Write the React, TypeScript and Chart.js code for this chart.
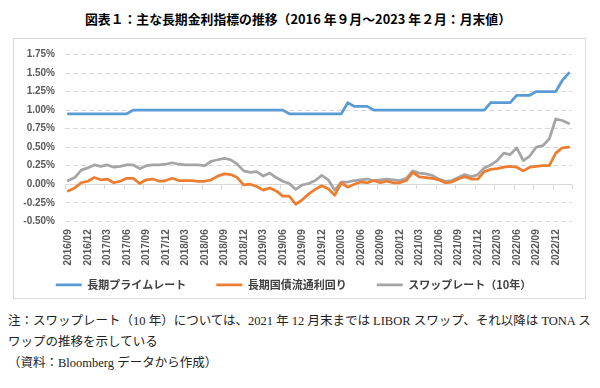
import React, { useEffect, useRef } from "react";
import { Chart, registerables } from "chart.js";

Chart.register(...registerables);

const months = [
  "2016/09", "2016/10", "2016/11", "2016/12",
  "2017/01", "2017/02", "2017/03", "2017/04", "2017/05", "2017/06", "2017/07", "2017/08", "2017/09", "2017/10", "2017/11", "2017/12",
  "2018/01", "2018/02", "2018/03", "2018/04", "2018/05", "2018/06", "2018/07", "2018/08", "2018/09", "2018/10", "2018/11", "2018/12",
  "2019/01", "2019/02", "2019/03", "2019/04", "2019/05", "2019/06", "2019/07", "2019/08", "2019/09", "2019/10", "2019/11", "2019/12",
  "2020/01", "2020/02", "2020/03", "2020/04", "2020/05", "2020/06", "2020/07", "2020/08", "2020/09", "2020/10", "2020/11", "2020/12",
  "2021/01", "2021/02", "2021/03", "2021/04", "2021/05", "2021/06", "2021/07", "2021/08", "2021/09", "2021/10", "2021/11", "2021/12",
  "2022/01", "2022/02", "2022/03", "2022/04", "2022/05", "2022/06", "2022/07", "2022/08", "2022/09", "2022/10", "2022/11", "2022/12",
  "2023/01", "2023/02",
];

// 長期プライムレート
const primeRate = [
  0.95, 0.95, 0.95, 0.95,
  0.95, 0.95, 0.95, 0.95, 0.95, 0.95, 1.0, 1.0, 1.0, 1.0, 1.0, 1.0,
  1.0, 1.0, 1.0, 1.0, 1.0, 1.0, 1.0, 1.0, 1.0, 1.0, 1.0, 1.0,
  1.0, 1.0, 1.0, 1.0, 1.0, 1.0, 0.95, 0.95, 0.95, 0.95, 0.95, 0.95,
  0.95, 0.95, 0.95, 1.1, 1.05, 1.05, 1.05, 1.0, 1.0, 1.0, 1.0, 1.0,
  1.0, 1.0, 1.0, 1.0, 1.0, 1.0, 1.0, 1.0, 1.0, 1.0, 1.0, 1.0,
  1.0, 1.1, 1.1, 1.1, 1.1, 1.2, 1.2, 1.2, 1.25, 1.25, 1.25, 1.25,
  1.4, 1.5,
];

// 長期国債流通利回り
const jgbYield = [
  -0.09, -0.05, 0.02, 0.04,
  0.09, 0.06, 0.07, 0.02, 0.04, 0.08, 0.08, 0.01, 0.06, 0.07, 0.04, 0.05,
  0.08, 0.05, 0.05, 0.05, 0.04, 0.04, 0.06, 0.11, 0.14, 0.13, 0.09, -0.01,
  0.0, -0.03, -0.08, -0.05, -0.09, -0.16, -0.16, -0.27, -0.21, -0.13, -0.07, -0.02,
  -0.06, -0.15, 0.02, -0.04, 0.0, 0.03, 0.02, 0.05, 0.02, 0.04, 0.02, 0.02,
  0.05, 0.16, 0.1, 0.09, 0.08, 0.06, 0.02, 0.03, 0.07, 0.1, 0.07, 0.07,
  0.17, 0.2, 0.21, 0.23, 0.24, 0.23, 0.18, 0.23, 0.24, 0.25, 0.25, 0.42,
  0.49, 0.5,
];

// スワップレート（10年）
const swapRate = [
  0.05, 0.09, 0.19, 0.22,
  0.26, 0.24, 0.26, 0.23, 0.24, 0.26, 0.26, 0.21, 0.25, 0.26, 0.26, 0.27,
  0.29, 0.27, 0.26, 0.26, 0.26, 0.25, 0.31, 0.33, 0.35, 0.33, 0.27, 0.18,
  0.16, 0.17, 0.11, 0.15, 0.09, 0.04, 0.01, -0.07, -0.01, 0.01, 0.05, 0.12,
  0.06, -0.08, 0.03, 0.03, 0.05, 0.06, 0.07, 0.045, 0.06, 0.07, 0.06, 0.05,
  0.08, 0.18, 0.15, 0.14, 0.12, 0.07, 0.04, 0.05, 0.09, 0.13, 0.1, 0.13,
  0.22, 0.26, 0.32, 0.42, 0.4, 0.49, 0.32, 0.38, 0.5, 0.52, 0.61, 0.88,
  0.86, 0.82,
];

const yTicks = [-0.5, -0.25, 0, 0.25, 0.5, 0.75, 1.0, 1.25, 1.5, 1.75];
const seriesNames = ["長期プライムレート", "長期国債流通利回り", "スワップレート（10年）"];
const seriesColors = ["#5b9bd5", "#ed7d31", "#a5a5a5"];
const tickEvery = 3;

const titleText = "図表１：主な長期金利指標の推移（2016 年９月～2023 年２月：月末値）";
const noteLines = [
  "注：スワップレート（10 年）については、2021 年 12 月末までは LIBOR スワップ、それ以降は TONA ス",
  "ワップの推移を示している",
  "（資料：Bloomberg データから作成）",
];

const zeroAxisPlugin = {
  id: "zeroAxis",
  beforeDraw(chart: any) {
    // let the rotated category labels overflow the (short) x-axis box
    const sx = chart.scales.x;
    if (sx) sx._computeLabelArea = () => undefined;
  },
  beforeDatasetsDraw(chart: any) {
    const { ctx, chartArea } = chart;
    const x = chart.scales.x;
    const y = chart.scales.y;
    const y0 = Math.round(y.getPixelForValue(0)) + 0.5;
    const half = (x.getPixelForValue(1) - x.getPixelForValue(0)) / 2;
    ctx.save();
    ctx.strokeStyle = "#d9d9d9";
    ctx.lineWidth = 1;
    ctx.setLineDash([]);
    ctx.beginPath();
    ctx.moveTo(chartArea.left, y0);
    ctx.lineTo(chartArea.right, y0);
    for (let i = 0; i <= months.length; i += tickEvery) {
      const px = Math.round(x.getPixelForValue(i) - half) + 0.5;
      ctx.moveTo(px, y0);
      ctx.lineTo(px, y0 + 4.5);
    }
    ctx.stroke();
    ctx.restore();
  },
};

export default function App() {
  const canvasRef = useRef<HTMLCanvasElement | null>(null);

  useEffect(() => {
    document.body.style.margin = "0";
    const canvas = canvasRef.current;
    if (!canvas) return;
    const chart = new Chart(canvas, {
      type: "line",
      data: {
        labels: months,
        datasets: [primeRate, jgbYield, swapRate].map((d, i) => ({
          label: seriesNames[i],
          data: d,
          borderColor: seriesColors[i],
          backgroundColor: seriesColors[i],
          borderWidth: 2.75,
          pointRadius: 0,
          pointHoverRadius: 0,
          pointStyle: "line",
          tension: 0,
          borderJoinStyle: "round" as const,
          borderCapStyle: "round" as const,
        })),
      },
      options: {
        animation: false,
        responsive: false,
        maintainAspectRatio: false,
        events: [],
        layout: { padding: { left: 15, right: 28, top: 54.5, bottom: 21.7 } },
        plugins: {
          title: { display: false },
          tooltip: { enabled: false },
          legend: {
            display: true,
            position: "bottom",
            labels: {
              usePointStyle: true,
              pointStyle: "line",
              pointStyleWidth: 26,
              boxHeight: 10,
              padding: 30,
              color: "#404040",
              font: { family: "'Noto Sans CJK JP'", size: 11, weight: "bold" },
            },
          },
        },
        scales: {
          x: {
            type: "category",
            offset: true,
            grid: { display: false, drawTicks: false },
            border: { display: false },
            afterFit: (s: any) => {
              s.height = 28;
            },
            ticks: {
              autoSkip: false,
              maxRotation: 90,
              minRotation: 90,
              padding: 8,
              color: "#595959",
              font: { family: "'Liberation Sans'", size: 10, weight: "bold" },
              callback: (_v: any, i: number) => (i % tickEvery === 0 ? months[i] : ""),
            },
          },
          y: {
            min: -0.5,
            max: 1.75,
            afterFit: (s: any) => {
              s.width = 50;
            },
            afterBuildTicks: (s: any) => {
              s.ticks = yTicks.map((v) => ({ value: v }));
            },
            grid: { color: "#d9d9d9", lineWidth: 1, drawTicks: false },
            border: { display: false, dash: [5, 3] },
            ticks: {
              padding: 10,
              color: "#595959",
              font: { family: "'Liberation Sans'", size: 10, weight: "bold" },
              callback: (v: any) => Number(v).toFixed(2) + "%",
            },
          },
        },
      },
      plugins: [zeroAxisPlugin],
    });
    return () => chart.destroy();
  }, []);

  return (
    <div style={{ position: "relative", width: 600, height: 388, background: "#fff", overflow: "hidden" }}>
      <div
        style={{
          position: "absolute",
          left: 0,
          top: 11,
          width: 596,
          textAlign: "center",
          fontFamily: "'Noto Sans CJK JP', sans-serif",
          fontWeight: "bold",
          fontSize: 12.85,
          lineHeight: "16px",
          color: "#000",
          whiteSpace: "nowrap",
        }}
      >
        {titleText}
      </div>
      <div
        style={{
          position: "absolute",
          left: 13,
          top: 38,
          width: 573,
          height: 261,
          border: "1px solid #d9d9d9",
          boxSizing: "border-box",
        }}
      />
      <div
        style={{
          position: "absolute",
          left: 8,
          top: 311,
          fontFamily: "'Liberation Serif', 'Noto Sans CJK JP', serif",
          fontSize: 12.5,
          lineHeight: "21px",
          color: "#222",
          whiteSpace: "nowrap",
        }}
      >
        {noteLines.map((t, i) => (
          <div key={i}>{t}</div>
        ))}
      </div>
      <canvas
        ref={canvasRef}
        width={600}
        height={322}
        style={{ position: "absolute", left: 0, top: 0, width: 600, height: 322 }}
      />
    </div>
  );
}
